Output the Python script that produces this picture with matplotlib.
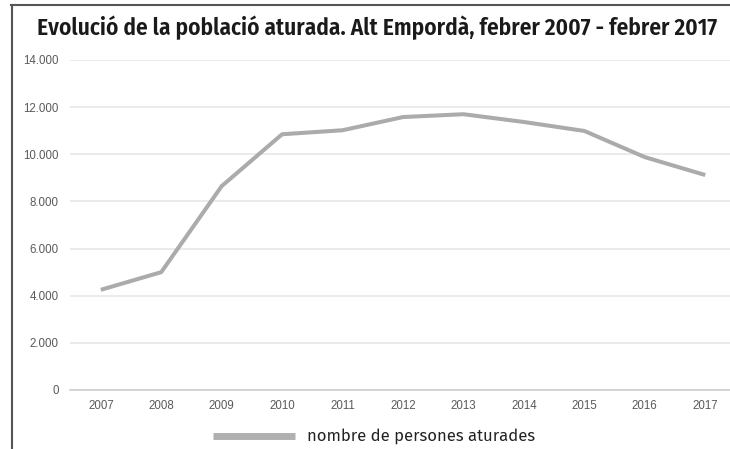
import matplotlib
matplotlib.use("Agg")
import matplotlib.pyplot as plt
from matplotlib.lines import Line2D
from matplotlib import font_manager

years = [2007, 2008, 2009, 2010, 2011, 2012, 2013, 2014, 2015, 2016, 2017]
aturats = [4250, 5000, 8650, 10850, 11020, 11580, 11700, 11370, 10990, 9880, 9120]
yticks = [0, 2000, 4000, 6000, 8000, 10000, 12000, 14000]
ytick_labels = ["0", "2.000", "4.000", "6.000", "8.000", "10.000", "12.000", "14.000"]
title = "Evolució de la població aturada. Alt Empordà, febrer 2007 - febrer 2017"
legend_label = "nombre de persones aturades"

names = {f.name for f in font_manager.fontManager.ttflist}
def pick(cands):
    for c in cands:
        if c in names:
            return c
    return "DejaVu Sans"
title_font = pick(["Fira Sans Condensed", "Open Sans Condensed", "Roboto Condensed",
                   "PT Sans Narrow", "Asap Condensed", "Liberation Sans Narrow", "Open Sans"])
legend_font = pick(["Fira Sans", "Open Sans", "Noto Sans"])

W, H = 730, 449
fig = plt.figure(figsize=(W / 100, H / 100), dpi=100)
fig.patch.set_facecolor("white")

ax = fig.add_axes([70 / W, 1 - 390 / H, 660 / W, 330 / H])
ax.plot(years, aturats, color="#ababab", lw=2.9, solid_capstyle="butt", solid_joinstyle="round")
ax.set_xlim(2006.49, 2017.41)
ax.set_ylim(0, 14000)
ax.set_yticks(yticks)
ax.set_yticklabels(ytick_labels)
ax.set_xticks(years)
ax.set_xticklabels([str(y) for y in years])
ax.grid(axis="y", color="#e8e8e8", lw=1.2)
ax.set_axisbelow(True)
for s in ["top", "right", "left"]:
    ax.spines[s].set_visible(False)
ax.spines["bottom"].set_color("#cfcfcf")
ax.spines["bottom"].set_linewidth(1.2)
ax.tick_params(axis="both", length=0, labelsize=8.3, labelcolor="#5a5a5a")
ax.tick_params(axis="y", pad=8)
ax.tick_params(axis="x", pad=7)
for lab in ax.get_xticklabels() + ax.get_yticklabels():
    lab.set_family("Liberation Sans")

# frame
fig.add_artist(Line2D([11 / W, 1], [1 - 5 / H, 1 - 5 / H], color="#555555", lw=1.5))
fig.add_artist(Line2D([12 / W, 12 / W], [0, 1 - 5 / H], color="#555555", lw=1.5))

t = fig.text(377 / W, 1 - 28 / H, title, ha="center", va="center",
             fontsize=17, fontweight=600, family=title_font, color="#1a1a1a")
r = fig.canvas.get_renderer()
w = t.get_window_extent(r).width
t.set_fontsize(17 * 680 / w)

# legend
fig.add_artist(Line2D([213 / W, 295 / W], [1 - 436 / H, 1 - 436 / H], color="#b0b0b0", lw=5,
                      solid_capstyle="butt"))
lt = fig.text(307 / W, 1 - 436 / H, legend_label, ha="left", va="center",
              fontsize=13, family=legend_font, color="#222222")
lw_ = lt.get_window_extent(r).width
lt.set_fontsize(13 * 228 / lw_)

fig.savefig("out.png", dpi=100)
